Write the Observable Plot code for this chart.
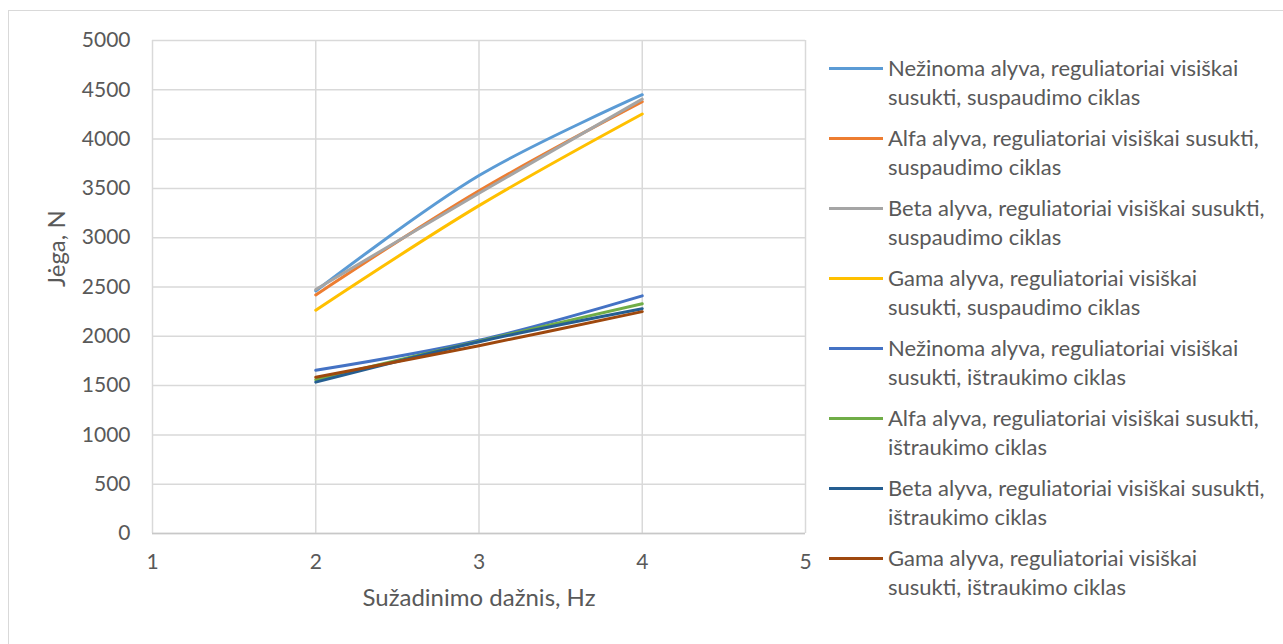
<!DOCTYPE html>
<html>
<head>
<meta charset="utf-8">
<script src="https://cdn.jsdelivr.net/npm/d3@7"></script>
<script src="https://cdn.jsdelivr.net/npm/@observablehq/plot@0.6"></script>
<style>
  html, body { margin: 0; padding: 0; background: #fff; }
  #wrap { position: relative; width: 1283px; height: 644px; overflow: hidden; font-family: Lato, "Open Sans", sans-serif; color: #595959; }
  #frame { position: absolute; left: 8px; top: 10px; width: 1290px; height: 650px; border: 1.5px solid #d9d9d9; box-sizing: border-box; }
  #chart { position: absolute; left: 0; top: 0; }
  #legend { position: absolute; left: 829px; top: 0; }
  .item { position: absolute; left: 0; width: 450px; }
  .sw { position: absolute; left: 0; width: 54px; height: 3px; }
  .txt { position: absolute; left: 59px; font-size: 22px; line-height: 28.5px; white-space: nowrap; }
</style>
</head>
<body>
<div id="wrap">
  <div id="frame"></div>
  <div id="chart"></div>
  <div id="legend"></div>
</div>
<script>
const frequencies = [2, 3, 4];
const seriesNames = [
  "Nežinoma alyva, reguliatoriai visiškai susukti, suspaudimo ciklas",
  "Alfa alyva, reguliatoriai visiškai susukti, suspaudimo ciklas",
  "Beta alyva, reguliatoriai visiškai susukti, suspaudimo ciklas",
  "Gama alyva, reguliatoriai visiškai susukti, suspaudimo ciklas",
  "Nežinoma alyva, reguliatoriai visiškai susukti, ištraukimo ciklas",
  "Alfa alyva, reguliatoriai visiškai susukti, ištraukimo ciklas",
  "Beta alyva, reguliatoriai visiškai susukti, ištraukimo ciklas",
  "Gama alyva, reguliatoriai visiškai susukti, ištraukimo ciklas"
];
const legendLines = [
  ["Nežinoma alyva, reguliatoriai visiškai", "susukti, suspaudimo ciklas"],
  ["Alfa alyva, reguliatoriai visiškai susukti,", "suspaudimo ciklas"],
  ["Beta alyva, reguliatoriai visiškai susukti,", "suspaudimo ciklas"],
  ["Gama alyva, reguliatoriai visiškai", "susukti, suspaudimo ciklas"],
  ["Nežinoma alyva, reguliatoriai visiškai", "susukti, ištraukimo ciklas"],
  ["Alfa alyva, reguliatoriai visiškai susukti,", "ištraukimo ciklas"],
  ["Beta alyva, reguliatoriai visiškai susukti,", "ištraukimo ciklas"],
  ["Gama alyva, reguliatoriai visiškai", "susukti, ištraukimo ciklas"]
];
const nezinomaSusp = [2460, 3630, 4450];
const alfaSusp     = [2420, 3475, 4380];
const betaSusp     = [2475, 3450, 4405];
const gamaSusp     = [2265, 3325, 4255];
const nezinomaIstr = [1655, 1960, 2410];
const alfaIstr     = [1560, 1950, 2330];
const betaIstr     = [1535, 1945, 2280];
const gamaIstr     = [1585, 1905, 2250];
const allSeries = [nezinomaSusp, alfaSusp, betaSusp, gamaSusp, nezinomaIstr, alfaIstr, betaIstr, gamaIstr];
const colors = ["#5B9BD5", "#ED7D31", "#A5A5A5", "#FFC000", "#4472C4", "#70AD47", "#255E91", "#9E480E"];
const xTicks = [1, 2, 3, 4, 5];
const yTicks = [0, 500, 1000, 1500, 2000, 2500, 3000, 3500, 4000, 4500, 5000];

const data = allSeries.flatMap((vals, i) => vals.map((v, j) => ({series: seriesNames[i], x: frequencies[j], y: v})));

const plot = Plot.plot({
  width: 820,
  height: 644,
  marginLeft: 152,
  marginRight: 15,
  marginTop: 40,
  marginBottom: 111,
  style: {fontFamily: "Lato, 'Open Sans', sans-serif", fontSize: "21px", color: "#595959", background: "transparent"},
  x: {domain: [1, 5], label: null},
  y: {domain: [0, 5000], label: null},
  color: {domain: seriesNames, range: colors},
  marks: [
    Plot.gridX(xTicks, {stroke: "#d9d9d9", strokeOpacity: 1, strokeWidth: 1.5}),
    Plot.gridY(yTicks, {stroke: "#d9d9d9", strokeOpacity: 1, strokeWidth: 1.5}),
    Plot.ruleY([0], {stroke: "#c8c8c8", strokeWidth: 1.5}),
    Plot.axisX({ticks: xTicks, tickFormat: d => String(d), tickSize: 0, tickPadding: 21, fontSize: 21, fill: "#595959", label: null}),
    Plot.axisY({ticks: yTicks, tickFormat: d => String(d), tickSize: 0, tickPadding: 22, fontSize: 21, fill: "#595959", label: null}),
    Plot.lineY(data, {x: "x", y: "y", z: "series", stroke: "series", strokeWidth: 3, curve: "catmull-rom"}),
    Plot.text(["Sužadinimo dažnis, Hz"], {frameAnchor: "bottom", dy: 72, fontSize: 24, fill: "#595959"}),
    Plot.text(["Jėga, N"], {frameAnchor: "left", dx: -95, rotate: -90, fontSize: 24, fill: "#595959"})
  ]
});
document.getElementById("chart").appendChild(plot);

const legend = document.getElementById("legend");
const legendTops = [68, 138, 208, 278, 348, 418, 488, 558];
legendLines.forEach((lines, i) => {
  const item = document.createElement("div");
  item.className = "item";
  item.style.top = (legendTops[i] - 14) + "px";
  const sw = document.createElement("div");
  sw.className = "sw";
  sw.style.background = colors[i];
  sw.style.top = "12.5px";
  item.appendChild(sw);
  const t = document.createElement("div");
  t.className = "txt";
  t.innerHTML = lines.join("<br>");
  item.appendChild(t);
  legend.appendChild(item);
});
</script>
</body>
</html>
